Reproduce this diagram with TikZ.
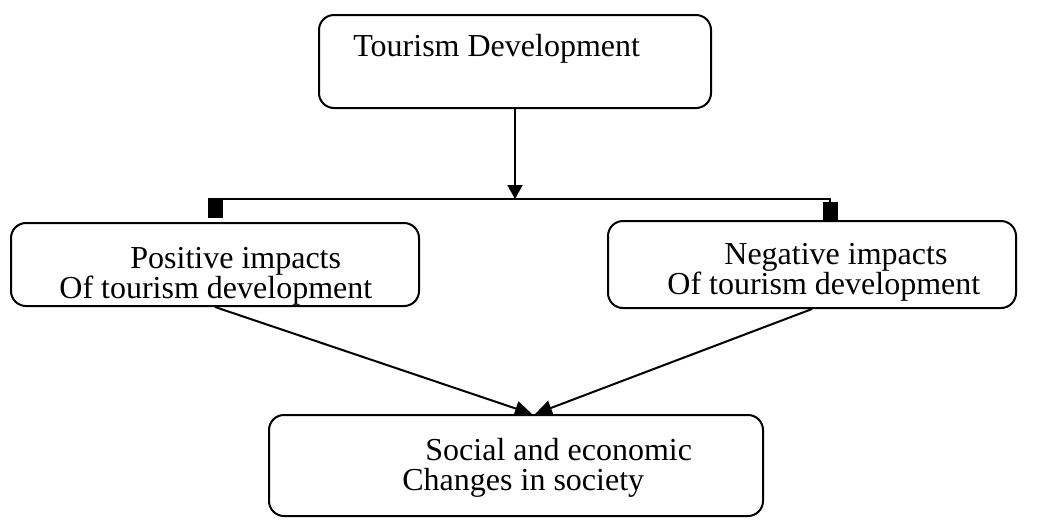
\documentclass[tikz,border=0pt]{standalone}
\usepackage{fontspec}
\setmainfont{Liberation Serif}
\usetikzlibrary{arrows.meta}
\usetikzlibrary{calc}
\tikzset{
    block/.style={
           rectangle,
           rounded corners=7.5pt,
           draw=black, line width=1pt,
           anchor=north west,
           inner sep=0pt,
           },
     frameless/.style={
           %rectangle,
           %draw=black,
           anchor=base west,
           inner sep=0pt,
           font=\fontsize{16}{19}\selectfont,
           },
     tip/.style={-{Triangle[length=#1,width=7.5pt]}, line width=1pt},
     sqtip/.style={-{Square[length=10pt,width=7.5pt]}, line width=1pt},
}

\begin{document}
\begin{tikzpicture}[x=0.5pt,y=-0.5pt]
	\useasboundingbox (0,0) rectangle (1044,531);

	\node[block, minimum width=196pt, minimum height=46.5pt] (dev) at (318,14) {};
	\node[block, minimum width=204pt, minimum height=41.5pt] (pos) at (10,222) {};
	\node[block, minimum width=204pt, minimum height=43.5pt] (neg) at (607,220) {};
	\node[block, minimum width=247pt, minimum height=50.5pt] (soc) at (268,414) {};

	\node[frameless] (devtext) at (353,56) {Tourism Development};
	\node[frameless] (postop) at (130,268) {Positive impacts};
	\node[frameless] (posbot) at (59,298) {Of tourism development};
	\node[frameless] (negtop) at (724,264) {Negative impacts};
	\node[frameless] (negbot) at (667,294) {Of tourism development};
	\node[frameless] (soctop) at (425,460) {Social and economic};
	\node[frameless] (socbot) at (402,490) {Changes in society};

	\coordinate (bus) at ($(dev.south)+(0,90)$);
	\coordinate (posend) at (215,218);
	\coordinate (negend) at (830,222);
	\coordinate (socl) at ($(soc.north)+(16,0)$);
	\coordinate (socr) at ($(soc.north)+(19,0)$);

	\path[tip=7pt]		(dev.south) edge (bus);
	\draw[sqtip]		(bus) -| (posend);
	\draw[sqtip]		(bus) -| (negend);
	\path[tip=8.5pt]	(pos.south) edge (socl);
	\path[tip=8.5pt]	(neg.south) edge (socr);
\end{tikzpicture}
\end{document}
